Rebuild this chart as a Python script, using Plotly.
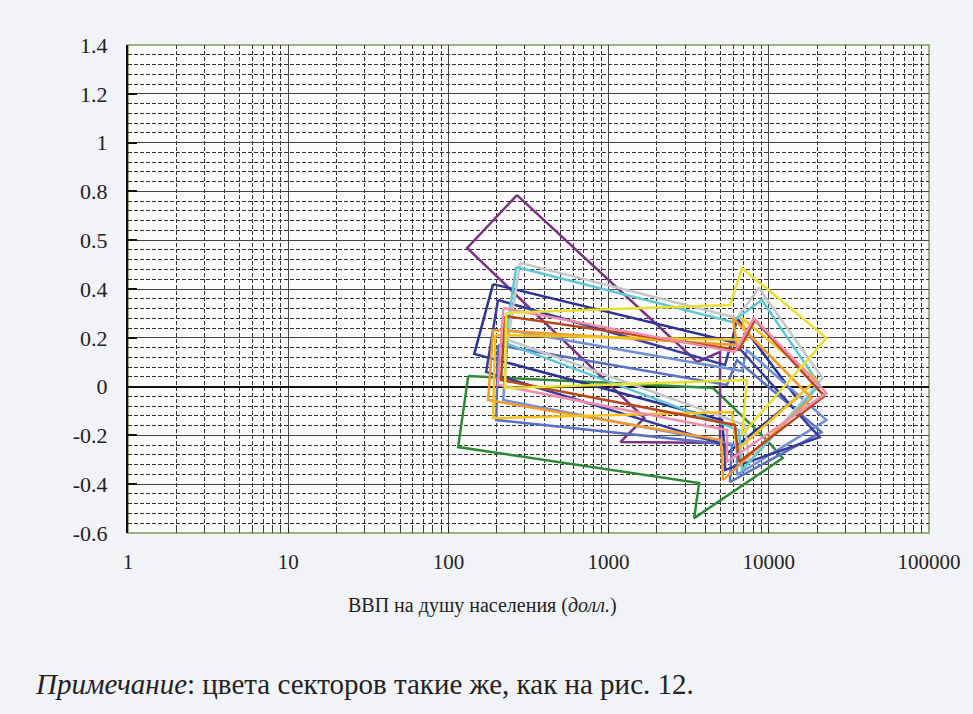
import plotly.graph_objects as go

# GDP per capita (USD) / index values of each sector outline (closed arrow shapes)
green_x = [133, 4489, 9718, 12218, 3421, 3675, 115]
green_y = [0.043, -0.006, -0.219, -0.293, -0.539, -0.395, -0.248]

purple_x = [268, 3571, 4963, 4963, 1187, 1673, 131]
purple_y = [0.785, 0.101, 0.142, -0.231, -0.227, -0.129, 0.568]

navy_x = [190, 5891, 6327, 14925, 5329, 5106, 145]
navy_y = [0.420, 0.183, 0.281, -0.047, -0.280, -0.137, 0.134]

navy2_x = [204, 5329, 5891, 20740, 5329, 5329, 172]
navy2_y = [0.355, 0.089, 0.191, -0.207, -0.342, -0.239, 0.060]

blue_x = [204, 5483, 6327, 21340, 5725, 5891, 199]
blue_y = [0.170, 0.007, 0.109, -0.186, -0.391, -0.239, -0.137]

lightblue_x = [236, 6797, 7301, 22920, 6327, 6327, 220]
lightblue_y = [0.232, 0.064, 0.150, -0.137, -0.362, -0.239, -0.055]

cyan_x = [265, 5891, 9049, 20740, 6797, 6513, 226]
cyan_y = [0.490, 0.265, 0.355, 0.007, -0.342, -0.178, 0.179]

gray_x = [280, 6327, 8668, 21645, 7512, 7095, 236]
gray_y = [0.507, 0.281, 0.404, 0.035, -0.309, -0.157, 0.191]

pink_x = [220, 6150, 8070, 22920, 5483, 5483, 204]
pink_y = [0.322, 0.142, 0.281, -0.026, -0.309, -0.178, 0.007]

brown_x = [226, 6513, 8185, 22270, 6513, 6150, 213]
brown_y = [0.289, 0.150, 0.273, -0.039, -0.309, -0.157, 0.027]

orange_x = [190, 6327, 5975, 18493, 5180, 5033, 177]
orange_y = [0.232, 0.170, 0.281, -0.047, -0.383, -0.219, -0.055]

gold_x = [196, 7301, 6797, 19870, 6327, 5891, 190]
gold_y = [0.211, 0.191, 0.281, 0.027, -0.260, -0.104, -0.129]

yellow_x = [229, 5725, 6797, 22920, 6797, 7301, 226]
yellow_y = [0.302, 0.334, 0.486, 0.199, -0.198, 0.027, -0.006]

y_ticks = [-0.6, -0.4, -0.2, 0, 0.2, 0.4, 0.6, 0.8, 1.0, 1.2, 1.4]
y_labels = ["-0.6", "-0.4", "-0.2", "0", "0.2", "0.4", "0.5", "0.8", "1", "1.2", "1.4"]
x_ticks = [1, 10, 100, 1000, 10000, 100000]

series = [
    (green_x, green_y, "#2f8a35"),
    (purple_x, purple_y, "#7a3282"),
    (navy_x, navy_y, "#2b3492"),
    (blue_x, blue_y, "#5a70c4"),
    (lightblue_x, lightblue_y, "#6f8fd6"),
    (navy2_x, navy2_y, "#3a3d9e"),
    (gray_x, gray_y, "#c3c7cb"),
    (cyan_x, cyan_y, "#5ec8d2"),
    (orange_x, orange_y, "#f39a2a"),
    (gold_x, gold_y, "#f6c21a"),
    (brown_x, brown_y, "#b8471e"),
    (pink_x, pink_y, "#ef8db0"),
    (yellow_x, yellow_y, "#e8e030"),
]

fig = go.Figure()

for xs, ys, color in series:
    # close each outline back to its first point
    fig.add_trace(go.Scatter(
        x=xs + xs[:1],
        y=ys + ys[:1],
        mode="lines",
        line={"color": color, "width": 2.5},
        hoverinfo="skip",
    ))

serif = "Liberation Serif, DejaVu Serif, serif"

fig.update_xaxes(
    type="log",
    range=[0, 5],
    tickvals=x_ticks,
    ticktext=[str(v) for v in x_ticks],
    tickfont={"family": serif, "size": 21, "color": "#222"},
    showgrid=True,
    gridcolor="#444",
    gridwidth=1,
    zeroline=False,
    showline=False,
    ticks="inside",
    ticklen=6,
    tickcolor="#222",
    ticklabelstandoff=14,
    minor={"dtick": "D1", "showgrid": True, "gridcolor": "#333",
           "griddash": "4px,2px", "gridwidth": 1,
           "ticks": "inside", "ticklen": 4, "tickcolor": "#444"},
)

fig.update_yaxes(
    range=[-0.6, 1.4],
    tickvals=y_ticks,
    ticktext=y_labels,
    tickfont={"family": serif, "size": 22, "color": "#222"},
    showgrid=True,
    gridcolor="#444",
    gridwidth=1,
    zeroline=True,
    zerolinecolor="#111",
    zerolinewidth=2,
    showline=True,
    linecolor="#111",
    linewidth=2,
    ticks="inside",
    ticklen=9,
    tickwidth=2,
    tickcolor="#111",
    ticklabelstandoff=14,
    minor={"dtick": 0.04, "showgrid": True, "gridcolor": "#333",
           "griddash": "4px,2px", "gridwidth": 1},
)

# thin olive frame round the plotting area
fig.add_shape(type="rect", xref="paper", yref="paper", x0=0, x1=1, y0=0, y1=1,
              line={"color": "#7f9a5c", "width": 1.5}, layer="below")

# x-axis title sits a little left of centre in the original
fig.add_annotation(
    text="ВВП на душу населения (<i>долл.</i>)",
    xref="paper", yref="paper", x=0.442, y=-0.148,
    xanchor="center", yanchor="middle", showarrow=False,
    font={"family": serif, "size": 20, "color": "#222"},
)

fig.add_annotation(
    text="<i>Примечание</i>: цвета секторов такие же, как на рис. 12.",
    xref="paper", yref="paper", x=-0.118, y=-0.31,
    xanchor="left", yanchor="middle", showarrow=False,
    font={"family": serif, "size": 29, "color": "#222"},
)

fig.update_layout(
    width=973,
    height=714,
    margin={"l": 128, "r": 40, "t": 45, "b": 181},
    paper_bgcolor="#f2f3f7",
    plot_bgcolor="#fbfbfb",
    showlegend=False,
)

fig.write_html("out.html", config={"displayModeBar": False},
               post_script="document.body.style.margin='0';")
